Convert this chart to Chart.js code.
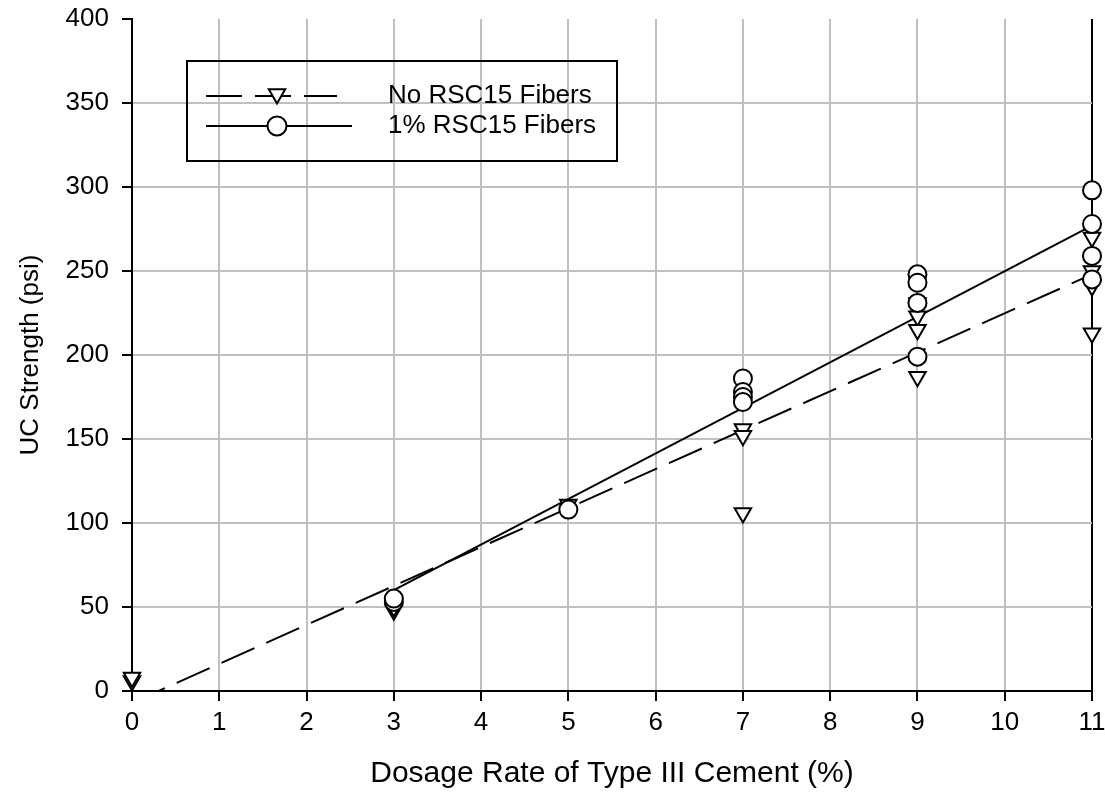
<!DOCTYPE html>
<html>
<head>
<meta charset="utf-8">
<script src="https://cdn.jsdelivr.net/npm/chart.js@4.4.1/dist/chart.umd.min.js"></script>
<style>
  body { margin: 0; background: #fff; }
  canvas { display: block; }
</style>
</head>
<body>
<canvas id="chart" width="1105" height="802"></canvas>
<script>
const noFiberX = [0, 0, 3, 3, 5, 7, 7, 7, 9, 9, 9, 9, 11, 11, 11, 11];
const noFiberY = [6, 8, 48, 50, 111, 156, 152, 106, 231, 223, 215, 187, 270, 250, 241, 213];

const fiberX = [3, 3, 5, 7, 7, 7, 7, 9, 9, 9, 9, 11, 11, 11, 11];
const fiberY = [53, 55, 108, 186, 178, 175, 172, 248, 243, 231, 199, 298, 278, 259, 245];

// Regression line end points
const fitNoX = [0, 11];
const fitNoY = [-7, 248];
const fitFiberX = [3, 11];
const fitFiberY = [60, 277];

const seriesLabels = ['No RSC15 Fibers', '1% RSC15 Fibers'];
const xTitle = 'Dosage Rate of Type III Cement (%)';
const yTitle = 'UC Strength (psi)';

const FONT = '"Liberation Sans", Arial, sans-serif';
const DASH = [36, 13];

function toPoints(xs, ys) {
    return xs.map((x, i) => ({ x: x, y: ys[i] }));
}

// Legend box with line + marker samples
const boxLegend = {
    id: 'boxLegend',
    afterDraw(chart) {
        const ctx = chart.ctx;
        const area = chart.chartArea;
        const left = area.left + 55;
        const top = area.top + 42;
        const w = 430, h = 100;
        ctx.save();
        ctx.strokeStyle = '#000';
        ctx.lineWidth = 2;
        ctx.strokeRect(left, top, w, h);

        const rows = [
            { y: top + 35, dash: DASH, end: left + 150, style: 'triangle', rot: 180 },
            { y: top + 65, dash: [], end: left + 165, style: 'circle', rot: 0 }
        ];
        rows.forEach((r, i) => {
            ctx.setLineDash(r.dash);
            ctx.beginPath();
            ctx.moveTo(left + 19, r.y);
            ctx.lineTo(r.end, r.y);
            ctx.stroke();
            ctx.setLineDash([]);
            ctx.fillStyle = '#fff';
            ctx.strokeStyle = '#000';
            ctx.lineWidth = 2;
            Chart.helpers.drawPoint(ctx, {
                pointStyle: r.style, radius: 9.5, rotation: r.rot, borderWidth: 2
            }, left + 90, r.y + (r.style === 'triangle' ? -2 : 0));
            ctx.fillStyle = '#000';
            ctx.font = '26px ' + FONT;
            ctx.textBaseline = 'middle';
            ctx.fillText(seriesLabels[i], left + 201, r.y);
        });
        ctx.restore();
    }
};

new Chart(document.getElementById('chart').getContext('2d'), {
    type: 'scatter',
    data: {
        datasets: [
            {
                label: seriesLabels[1],
                data: toPoints(fiberX, fiberY),
                pointStyle: 'circle',
                pointRadius: 9,
                pointBackgroundColor: '#fff',
                pointBorderColor: '#000',
                pointBorderWidth: 2,
                clip: false,
                order: 1
            },
            {
                label: seriesLabels[0],
                data: toPoints(noFiberX, noFiberY),
                pointStyle: 'triangle',
                rotation: 180,
                pointRadius: 9.5,
                pointBackgroundColor: '#fff',
                pointBorderColor: '#000',
                pointBorderWidth: 2,
                clip: false,
                order: 2
            },
            {
                label: 'fit no fibers',
                data: toPoints(fitNoX, fitNoY),
                showLine: true,
                borderColor: '#000',
                borderWidth: 2,
                borderDash: DASH,
                pointRadius: 0,
                order: 3
            },
            {
                label: 'fit fibers',
                data: toPoints(fitFiberX, fitFiberY),
                showLine: true,
                borderColor: '#000',
                borderWidth: 2,
                pointRadius: 0,
                order: 3
            }
        ]
    },
    options: {
        responsive: false,
        animation: false,
        layout: { padding: { top: 19, right: 13, left: 0, bottom: 0 } },
        plugins: {
            legend: { display: false },
            tooltip: { enabled: false }
        },
        scales: {
            x: {
                type: 'linear',
                min: 0,
                max: 11,
                afterFit: (scale) => {
                    scale.height = 111;
                    scale.paddingLeft = 0;
                    scale.paddingRight = 0;
                },
                ticks: {
                    stepSize: 1,
                    color: '#000',
                    padding: 6,
                    maxRotation: 0,
                    font: { family: FONT, size: 26 }
                },
                grid: {
                    color: (c) => c.tick && c.tick.value === 11 ? '#000' : '#c0c0c0',
                    lineWidth: 2,
                    tickColor: '#000',
                    tickLength: 10
                },
                border: { color: '#000', width: 2 },
                title: {
                    display: true,
                    text: xTitle,
                    color: '#000',
                    font: { family: FONT, size: 30 },
                    padding: { top: 0, bottom: 10 }
                }
            },
            y: {
                min: 0,
                max: 400,
                afterFit: (scale) => {
                    scale.width = 132;
                    scale.paddingTop = 0;
                    scale.paddingBottom = 0;
                },
                ticks: {
                    stepSize: 50,
                    color: '#000',
                    padding: 13,
                    font: { family: FONT, size: 26 }
                },
                grid: {
                    color: (c) => c.tick && c.tick.value === 400 ? 'rgba(0,0,0,0)' : '#c0c0c0',
                    lineWidth: 2,
                    tickColor: '#000',
                    tickLength: 10
                },
                border: { color: '#000', width: 2 },
                title: {
                    display: true,
                    text: yTitle,
                    color: '#000',
                    font: { family: FONT, size: 26 },
                    padding: { top: 15, bottom: 0 }
                }
            }
        }
    },
    plugins: [boxLegend]
});
</script>
</body>
</html>
